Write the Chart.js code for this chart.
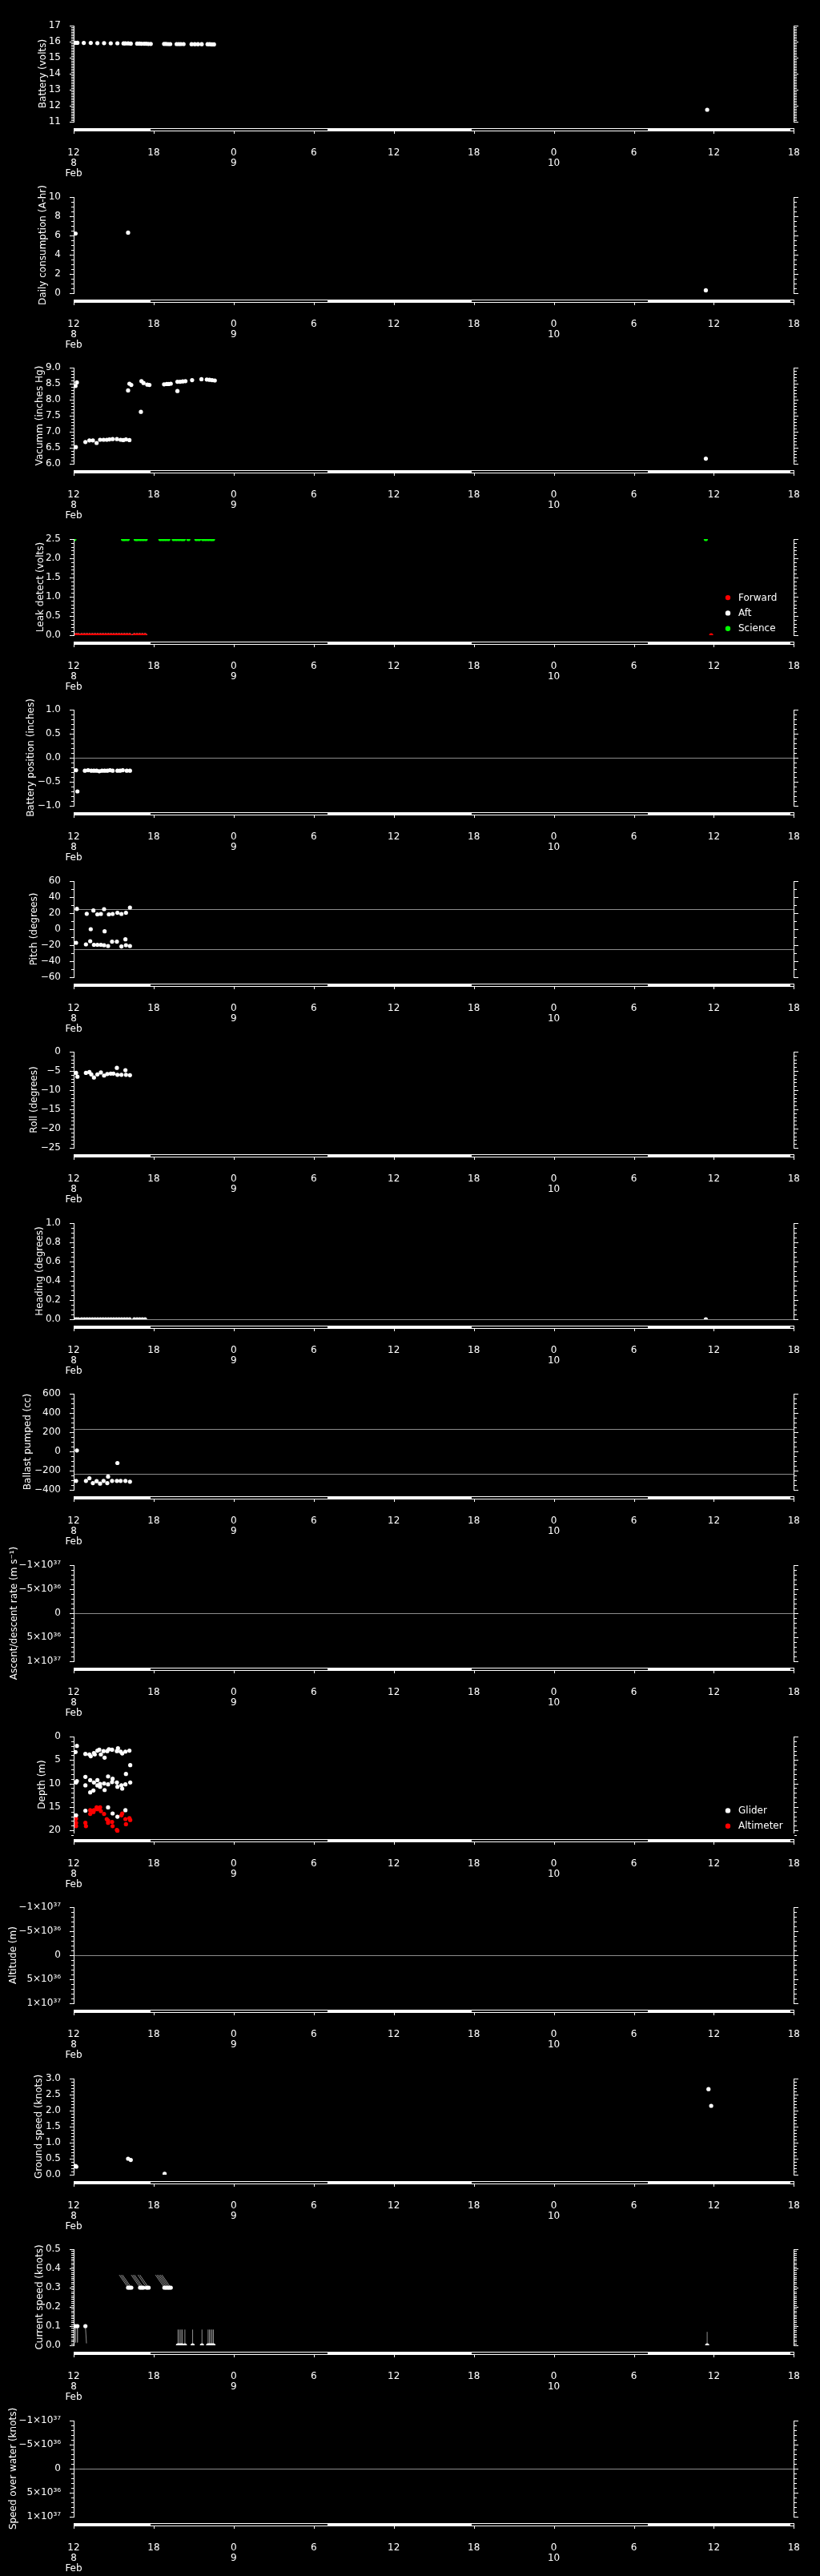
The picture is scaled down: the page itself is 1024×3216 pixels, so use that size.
<!DOCTYPE html>
<html><head><meta charset="utf-8">
<script src="https://cdn.jsdelivr.net/npm/chart.js@4/dist/chart.umd.min.js"></script>
<style>
html,body{margin:0;padding:0;background:#000;}
#wrap{position:relative;width:1024px;height:3216px;background:#000;overflow:hidden;}
canvas{position:absolute;left:0;}
</style></head><body><div id="wrap"></div>
<script>
// ---------- time axis (hours since 8 Feb 12:00) ----------
const xTickHours = [0, 6, 12, 18, 24, 30, 36, 42, 48, 54];
const xTickLabels = [["12","8","Feb"],["18"],["0","9"],["6"],["12"],["18"],["0","10"],["6"],["12"],["18"]];
const nightStart = [5.77, 29.83, 53.76];
const nightEnd = [19.02, 43.04, 54];

// ---------- Battery ----------
const batteryTime = [0.14,0.28,0.76,1.28,1.78,2.28,2.78,3.28,3.74,3.88,4.08,4.28,4.76,4.92,5.08,5.28,5.44,5.6,5.78,6.78,6.92,7.08,7.24,7.72,7.88,8.04,8.24,8.84,9.08,9.32,9.6,10.04,10.2,10.36,10.52,47.5];
const batteryVolts = [15.93,15.93,15.92,15.92,15.91,15.91,15.9,15.9,15.89,15.89,15.89,15.88,15.88,15.88,15.87,15.87,15.87,15.86,15.86,15.86,15.86,15.85,15.85,15.85,15.85,15.85,15.85,15.84,15.84,15.84,15.84,15.84,15.84,15.83,15.83,11.75];
const batteryTicks = [11,12,13,14,15,16,17];
const batteryTickLabels = ["11","12","13","14","15","16","17"];

// ---------- Daily consumption ----------
const consTime = [0.14, 4.08, 47.4];
const consAh = [6.2, 6.3, 0.3];
const consTicks = [0,2,4,6,8,10];
const consTickLabels = ["0","2","4","6","8","10"];

// ---------- Vacuum ----------
const vacTime = [0.14,0.24,0.16,0.88,1.18,1.44,1.72,1.98,2.24,2.48,2.68,2.92,3.24,3.52,3.72,3.92,4.08,4.18,4.18,4.32,5.04,5.08,5.24,5.52,5.68,6.78,6.98,7.12,7.28,7.78,7.78,7.98,8.18,8.38,8.88,9.58,9.98,10.18,10.38,10.58,47.4];
const vacInHg = [8.43,8.54,6.52,6.68,6.73,6.73,6.65,6.75,6.75,6.75,6.76,6.77,6.77,6.75,6.74,6.76,8.29,8.5,6.74,8.46,7.62,8.58,8.52,8.47,8.46,8.48,8.49,8.49,8.5,8.27,8.56,8.56,8.57,8.58,8.61,8.64,8.63,8.62,8.61,8.6,6.16];
const vacTicks = [6,6.5,7,7.5,8,8.5,9];
const vacTickLabels = ["6.0","6.5","7.0","7.5","8.0","8.5","9.0"];

// ---------- Leak detect ----------
const fwdTime = [0.05,0.2,0.35,0.6,0.8,1.0,1.2,1.4,1.6,1.8,2.0,2.2,2.4,2.6,2.8,3.0,3.2,3.4,3.6,3.8,4.0,4.2,4.55,4.75,4.95,5.15,5.35,47.8];
const fwdVolts = [0,0,0,0,0,0,0,0,0,0,0,0,0,0,0,0,0,0,0,0,0,0,0,0,0,0,0,0];
const aftTime = [0.05,0.2,0.35,0.6,0.8,1.0,1.2,1.4,1.6,1.8,2.0,2.2,2.4,2.6,2.8,3.0,3.2,3.4,3.6,3.8,4.0,4.2,4.55,4.75,4.95,5.15,5.35];
const aftVolts = [0,0,0,0,0,0,0,0,0,0,0,0,0,0,0,0,0,0,0,0,0,0,0,0,0,0,0];
const sciTime = [0.05,3.7,3.85,4.05,4.65,4.8,5.0,5.2,5.4,6.5,6.7,6.9,7.1,7.5,7.7,7.9,8.1,8.25,8.6,9.2,9.4,9.7,9.9,10.1,10.3,10.45,47.4];
const sciVolts = [2.5,2.5,2.5,2.5,2.5,2.5,2.5,2.5,2.5,2.5,2.5,2.5,2.5,2.5,2.5,2.5,2.5,2.5,2.5,2.5,2.5,2.5,2.5,2.5,2.5,2.5,2.5];
const leakTicks = [0,0.5,1,1.5,2,2.5];
const leakTickLabels = ["0.0","0.5","1.0","1.5","2.0","2.5"];

// ---------- Battery position ----------
const bpTime = [0.18,0.28,0.84,1.08,1.32,1.52,1.72,1.92,2.12,2.32,2.52,2.72,2.92,3.28,3.48,3.68,3.98,4.22];
const bpInches = [-0.26,-0.7,-0.27,-0.26,-0.27,-0.27,-0.27,-0.28,-0.27,-0.27,-0.27,-0.26,-0.27,-0.27,-0.27,-0.26,-0.27,-0.27];
const bpTicks = [-1,-0.5,0,0.5,1];
const bpTickLabels = ["\u22121.0","\u22120.5","0.0","0.5","1.0"];
const bpRefLines = [0];

// ---------- Pitch ----------
const pitchTime = [0.24,0.98,1.48,1.78,2.04,2.28,2.64,2.92,3.28,3.58,3.92,4.22,1.28,2.32,0.18,0.92,1.24,1.52,1.78,2.04,2.28,2.58,2.88,3.24,3.58,3.88,3.92,4.22];
const pitchDeg = [25.3,19.2,23.3,18.5,19,25,18.5,19,20.5,19,20.5,27,0,-2.7,-17,-19,-15,-19.5,-19.5,-19.5,-20,-21,-15.6,-15.6,-21.6,-12.7,-20,-21];
const pitchTicks = [-60,-40,-20,0,20,40,60];
const pitchTickLabels = ["\u221260","\u221240","\u221220","0","20","40","60"];
const pitchRefLines = [25, -25];

// ---------- Roll ----------
const rollTime = [0.18,0.28,0.92,1.18,1.32,1.52,1.78,2.04,2.28,2.52,2.78,2.98,3.24,3.28,3.58,3.88,3.92,4.22];
const rollDeg = [-5.5,-6.5,-5.5,-5.3,-5.9,-6.7,-5.9,-5.4,-6.2,-5.8,-5.7,-5.7,-4.2,-6.0,-6.0,-4.8,-6.0,-6.1];
const rollTicks = [-25,-20,-15,-10,-5,0];
const rollTickLabels = ["\u221225","\u221220","\u221215","\u221210","\u22125","0"];

// ---------- Heading ----------
const hdTime = [0.05,0.2,0.35,0.6,0.8,1.0,1.2,1.4,1.6,1.8,2.0,2.2,2.4,2.6,2.8,3.0,3.2,3.4,3.6,3.8,4.0,4.2,4.55,4.75,4.95,5.15,5.35,47.4];
const hdDeg = [0,0,0,0,0,0,0,0,0,0,0,0,0,0,0,0,0,0,0,0,0,0,0,0,0,0,0,0];
const hdTicks = [0,0.2,0.4,0.6,0.8,1];
const hdTickLabels = ["0.0","0.2","0.4","0.6","0.8","1.0"];
const hdRefLines = [0];

// ---------- Ballast ----------
const ballastTime = [0.24,0.18,0.92,1.18,1.44,1.72,1.98,2.24,2.52,2.58,2.88,3.28,3.24,3.52,3.88,4.22];
const ballastCc = [10,-307,-307,-279,-330,-310,-335,-307,-330,-262,-307,-121,-307,-307,-307,-315];
const ballastTicks = [-400,-200,0,200,400,600];
const ballastTickLabels = ["\u2212400","\u2212200","0","200","400","600"];
const ballastRefLines = [230, -230];

// ---------- Empty huge-range panels ----------
const hugeTicks = [-1e37,-5e36,0,5e36,1e37];
const hugeTickLabels = ["\u22121\u00d710\u00b3\u2077","\u22125\u00d710\u00b3\u2076","0","5\u00d710\u00b3\u2076","1\u00d710\u00b3\u2077"];
const hugeRefLines = [0];

// ---------- Depth ----------
const gliderTime = [0.24,0.14,0.88,1.18,1.28,1.52,1.58,1.78,1.92,2.04,2.24,2.32,2.52,2.64,2.88,3.24,3.32,3.52,3.64,3.88,4.18,4.24,
 0.18,0.24,0.88,0.88,1.24,1.24,1.48,1.52,1.78,1.78,1.98,1.98,2.28,2.32,2.58,2.58,2.88,2.92,3.24,3.28,3.58,3.64,3.88,3.92,4.24,
 0.18,0.88,2.58,2.92,3.28,3.88];
const gliderDepth = [2.0,3.3,3.7,3.8,4.2,3.5,3.8,3.0,2.8,3.8,3.1,4.5,3.1,2.7,2.8,3.1,2.5,3.2,3.6,3.2,3.0,6.1,
 9.8,9.5,8.6,10.4,9.3,11.9,11.5,9.8,9.3,10.4,10.1,10.7,10.0,11.4,10.2,8.5,9.7,9.0,9.8,10.7,10.4,11.1,10.2,7.97,9.8,
 16.8,15.8,15.1,16.4,17.1,15.7];
const altimTime = [0.18,0.18,0.18,0.88,0.92,1.24,1.24,1.48,1.52,1.72,1.78,1.98,2.04,2.28,2.48,2.58,2.58,2.88,2.92,3.24,3.28,3.58,3.64,3.88,3.92,4.18,4.24];
const altimDepth = [17.5,18.4,19.1,18.4,19.1,15.7,16.5,16.1,15.7,15.1,15.5,15.1,15.9,16.5,17.6,18.4,17.9,18.2,19.1,19.9,20.1,16.8,16.4,17.6,18.7,17.4,17.8];
const depthTicks = [0,5,10,15,20];
const depthTickLabels = ["0","5","10","15","20"];

// ---------- Ground speed ----------
const gsTime = [0.14,0.2,4.08,4.28,6.82,47.6,47.8];
const gsKnots = [0.27,0.25,0.5,0.46,0.03,2.67,2.15];
const gsTicks = [0,0.5,1,1.5,2,2.5,3];
const gsTickLabels = ["0.0","0.5","1.0","1.5","2.0","2.5","3.0"];

// ---------- Current speed (points + direction sticks) ----------
const csTime = [0.14,0.28,0.88,4.08,4.2,4.32,4.98,5.1,5.22,5.48,5.62,6.8,6.92,7.04,7.16,7.28,7.82,7.92,8.04,8.14,8.34,8.92,9.62,10.08,10.18,10.28,10.38,10.48,47.5];
const csKnots = [0.1,0.1,0.1,0.3,0.3,0.3,0.3,0.3,0.3,0.3,0.3,0.3,0.3,0.3,0.3,0.3,0,0,0,0,0,0,0,0,0,0,0,0,0];
const csStickDT = [0,0,0.08,-0.66,-0.66,-0.66,-0.66,-0.66,-0.66,-0.66,-0.66,-0.66,-0.66,-0.66,-0.66,-0.66,0,0,0,0,0,0,0,0,0,0,0,0,0];
const csStickDV = [-0.085,-0.085,-0.09,0.066,0.066,0.066,0.066,0.066,0.066,0.066,0.066,0.066,0.066,0.066,0.066,0.066,0.082,0.082,0.082,0.082,0.082,0.082,0.082,0.082,0.082,0.082,0.082,0.082,0.07];
const csTicks = [0,0.1,0.2,0.3,0.4,0.5];
const csTickLabels = ["0.0","0.1","0.2","0.3","0.4","0.5"];

// ---------- helpers ----------
const FONT = '"DejaVu Sans", "Liberation Sans", sans-serif';
const CANVAS_H = 232;
function pts(t, v) { return t.map((x, i) => ({x: x, y: v[i]})); }
function scat(label, t, v, color, legend) {
  return {type: 'scatter', label: label, data: pts(t, v), pointRadius: 2.6, pointHoverRadius: 2.6,
    pointBorderWidth: 0, pointBackgroundColor: color, backgroundColor: color, borderColor: color,
    showLine: false, clip: 0, legendItem: !!legend};
}
function sticks(t, v, dt, dv) {
  const d = [];
  t.forEach((x, i) => { d.push({x: x, y: v[i]}, {x: x + dt[i], y: v[i] + dv[i]}, {x: x, y: null}); });
  return {type: 'line', label: 'sticks', data: d, borderColor: '#8c8c8c', borderWidth: 1, pointRadius: 0,
    pointHoverRadius: 0, spanGaps: false, fill: false, clip: 0, legendItem: false};
}

const PANELS = [
  {title: 'Battery (volts)', tx: 54, min: 11, max: 17, ticks: batteryTicks, labels: batteryTickLabels, minor: 0.1,
   ds: [scat('Battery', batteryTime, batteryVolts, '#ffffff')]},
  {title: 'Daily consumption (A-hr)', tx: 54, min: 0, max: 10, ticks: consTicks, labels: consTickLabels, minor: 0.5,
   ds: [scat('Consumption', consTime, consAh, '#ffffff')]},
  {title: 'Vacumm (inches Hg)', tx: 50, min: 6, max: 9, ticks: vacTicks, labels: vacTickLabels, minor: 0.1,
   ds: [scat('Vacuum', vacTime, vacInHg, '#ffffff')]},
  {title: 'Leak detect (volts)', tx: 51, min: 0, max: 2.5, ticks: leakTicks, labels: leakTickLabels, minor: 0.1, legend: true,
   ds: [scat('Forward', fwdTime, fwdVolts, '#ff0000', true), scat('Aft', aftTime, aftVolts, '#ffffff', true), scat('Science', sciTime, sciVolts, '#00ff00', true)]},
  {title: 'Battery position (inches)', tx: 39, min: -1, max: 1, ticks: bpTicks, labels: bpTickLabels, minor: 0.1, ref: bpRefLines,
   ds: [scat('Battery position', bpTime, bpInches, '#ffffff')]},
  {title: 'Pitch (degrees)', tx: 43, min: -60, max: 60, ticks: pitchTicks, labels: pitchTickLabels, minor: 10, ref: pitchRefLines,
   ds: [scat('Pitch', pitchTime, pitchDeg, '#ffffff')]},
  {title: 'Roll (degrees)', tx: 43, min: -25, max: 0, ticks: rollTicks, labels: rollTickLabels, minor: 1,
   ds: [scat('Roll', rollTime, rollDeg, '#ffffff')]},
  {title: 'Heading (degrees)', tx: 50, min: 0, max: 1, ticks: hdTicks, labels: hdTickLabels, minor: 0.05, ref: hdRefLines,
   ds: [scat('Heading', hdTime, hdDeg, '#ffffff')]},
  {title: 'Ballast pumped (cc)', tx: 35, min: -400, max: 600, ticks: ballastTicks, labels: ballastTickLabels, minor: 50, ref: ballastRefLines,
   ds: [scat('Ballast', ballastTime, ballastCc, '#ffffff')]},
  {title: 'Ascent/descent rate (m s\u207b\u00b9)', tx: 18, min: -1e37, max: 1e37, reverse: true, ticks: hugeTicks, labels: hugeTickLabels, minor: 1e36, ref: hugeRefLines,
   ds: []},
  {title: 'Depth (m)', tx: 53, min: 0, max: 20.5, reverse: true, ticks: depthTicks, labels: depthTickLabels, minor: 1, legend: true,
   ds: [scat('Glider', gliderTime, gliderDepth, '#ffffff', true), scat('Altimeter', altimTime, altimDepth, '#ff0000', true)]},
  {title: 'Altitude (m)', tx: 17, min: -1e37, max: 1e37, reverse: true, ticks: hugeTicks, labels: hugeTickLabels, minor: 1e36, ref: hugeRefLines,
   ds: []},
  {title: 'Ground speed (knots)', tx: 49, min: 0, max: 3, ticks: gsTicks, labels: gsTickLabels, minor: 0.1,
   ds: [scat('Ground speed', gsTime, gsKnots, '#ffffff')]},
  {title: 'Current speed (knots)', tx: 50, min: 0, max: 0.5, ticks: csTicks, labels: csTickLabels, minor: 0.01,
   ds: [scat('Current speed', csTime, csKnots, '#ffffff'), sticks(csTime, csKnots, csStickDT, csStickDV)]},
  {title: 'Speed over water (knots)', tx: 17, min: -1e37, max: 1e37, reverse: true, ticks: hugeTicks, labels: hugeTickLabels, minor: 1e36, ref: hugeRefLines,
   ds: []}
];

const decor = {
  id: 'decor',
  beforeDatasetsDraw(chart, args, o) {
    const {ctx, chartArea: a} = chart; const y = chart.scales.y;
    ctx.save(); ctx.fillStyle = '#8c8c8c';
    (o.ref || []).forEach(v => { const py = Math.round(y.getPixelForValue(v)); ctx.fillRect(a.left, py, a.right - a.left, 1); });
    ctx.restore();
  },
  afterDraw(chart, args, o) {
    const {ctx, chartArea: a} = chart; const x = chart.scales.x, y = chart.scales.y;
    const L = Math.round(a.left), R = Math.round(a.right), T = Math.round(a.top), B = Math.round(a.bottom);
    ctx.save();
    ctx.fillStyle = '#fff';
    ctx.fillRect(L, T, 1, B - T + 1);
    ctx.fillRect(R, T, 1, B - T + 1);
    const tickAt = (v, len) => { const py = Math.round(y.getPixelForValue(v)); ctx.fillRect(L - len, py, len, 1); ctx.fillRect(R + 1, py, len, 1); };
    const n = Math.round((y.max - y.min) / o.minor);
    for (let i = 0; i <= n; i++) tickAt(y.min + i * o.minor, 3);
    y.ticks.forEach(t => tickAt(t.value, 5));
    // time bar with night shading
    const x0 = Math.round(x.getPixelForValue(x.min)), x1 = Math.round(x.getPixelForValue(x.max));
    const by = B + 8;
    ctx.fillRect(x0, by, x1 - x0 + 1, 4);
    ctx.fillStyle = '#000';
    nightStart.forEach((s, i) => {
      const p0 = Math.max(x0 + 1, Math.round(x.getPixelForValue(s)));
      const p1 = Math.min(x1, Math.round(x.getPixelForValue(nightEnd[i])));
      if (p1 > p0) ctx.fillRect(p0, by + 1, p1 - p0, 2);
    });
    ctx.fillStyle = '#fff';
    x.ticks.forEach(t => { const px = Math.round(x.getPixelForValue(t.value)); ctx.fillRect(px, by + 4, 1, 3); });
    // legend
    if (o.legend) {
      const items = chart.data.datasets.filter(d => d.legendItem);
      ctx.font = '12px ' + FONT; ctx.textAlign = 'left'; ctx.textBaseline = 'middle';
      items.forEach((d, i) => {
        const yy = B - 8.3 - (items.length - 1 - i) * 19.3;
        ctx.fillStyle = d.pointBackgroundColor;
        ctx.beginPath(); ctx.arc(R - 82, yy, 3.2, 0, Math.PI * 2); ctx.fill();
        ctx.fillStyle = '#fff';
        ctx.fillText(d.label, R - 69, yy + 0.5);
      });
    }
    // y title
    ctx.fillStyle = '#fff'; ctx.font = '12px ' + FONT; ctx.textAlign = 'center'; ctx.textBaseline = 'middle';
    ctx.translate(o.tx, (T + B) / 2); ctx.rotate(-Math.PI / 2); ctx.fillText(o.title, 0, 0);
    ctx.restore();
  }
};

const wrap = document.getElementById('wrap');
PANELS.forEach((p, i) => {
  const c = document.createElement('canvas');
  c.width = 1024; c.height = CANVAS_H;
  c.style.width = '1024px'; c.style.height = CANVAS_H + 'px';
  c.style.top = Math.round(i * 213.55) + 'px';
  wrap.appendChild(c);
  new Chart(c, {
    type: 'scatter',
    data: {datasets: p.ds},
    options: {
      responsive: false, animation: false, devicePixelRatio: 1, events: [],
      layout: {padding: {top: 32, right: 32, left: 0, bottom: 0}},
      plugins: {legend: {display: false}, tooltip: {enabled: false},
        decor: {ref: p.ref, minor: p.minor, title: p.title, tx: p.tx, legend: !!p.legend}},
      scales: {
        x: {type: 'linear', position: 'bottom', min: 0, max: 54,
          afterFit: s => { s.height = CANVAS_H - 152; },
          afterBuildTicks: s => { s.ticks = xTickHours.map(v => ({value: v})); },
          grid: {display: false}, border: {display: false},
          ticks: {color: '#fff', font: {family: FONT, size: 12, lineHeight: 1.05}, padding: 25,
            maxRotation: 0, minRotation: 0, autoSkip: false, callback: (v, idx) => xTickLabels[idx]}},
        y: {type: 'linear', position: 'left', min: p.min, max: p.max, reverse: !!p.reverse,
          afterFit: s => { s.width = 92; },
          afterBuildTicks: s => { s.ticks = p.ticks.map(v => ({value: v})); },
          grid: {display: false}, border: {display: false},
          ticks: {color: '#fff', font: {family: FONT, size: 12}, padding: 8, autoSkip: false,
            callback: (v, idx) => p.labels[idx]}}
      }
    },
    plugins: [decor]
  });
});
</script>
</body></html>
